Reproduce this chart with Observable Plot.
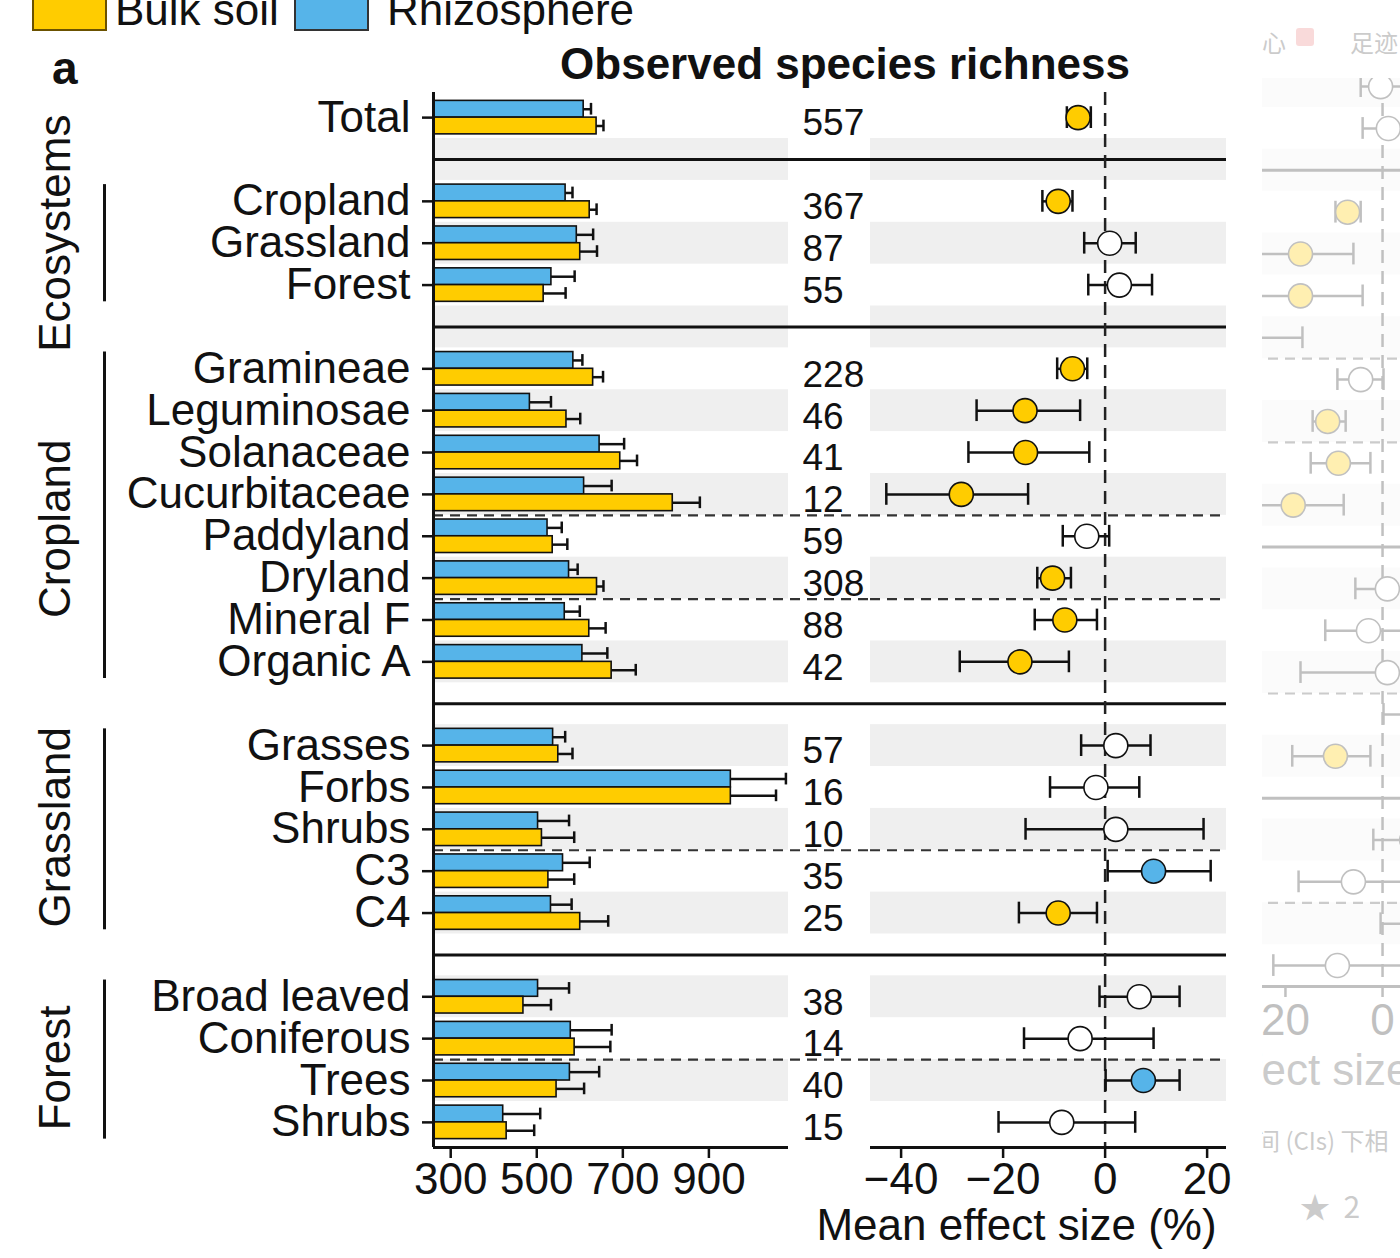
<!DOCTYPE html>
<html>
<head>
<meta charset="utf-8">
<script src="https://cdn.jsdelivr.net/npm/d3@7"></script>
<script src="https://cdn.jsdelivr.net/npm/@observablehq/plot@0.6"></script>
<style>
  html, body { margin: 0; padding: 0; background: #fff; overflow: hidden; }
  #wrap { position: relative; width: 1400px; height: 1258px; font-family: "Liberation Sans", Arial, sans-serif; overflow: hidden; }
  #wrap > svg { position: absolute; left: 0; top: 0; }
  .lbl { position: absolute; white-space: nowrap; line-height: 44px; font-size: 44px; color: #111; }
  .box { position: absolute; border: 2px solid #333; box-sizing: border-box; }
  #ghost { position: absolute; left: 1262px; top: 0; width: 138px; height: 1258px; overflow: hidden; opacity: 0.3; }
  #ghostPlot { position: absolute; left: 0; top: 78px; width: 138px; height: 1180px; overflow: hidden; }
  #ghostPlot svg { position: absolute; left: -1262px; top: -78px; max-width: none !important; width: 1400px; height: 1258px; }
  .gt { position: absolute; white-space: nowrap; color: #555; font-family: "Noto Sans CJK SC", "Liberation Sans", sans-serif; }
</style>
</head>
<body>
<div id="wrap">
  <div class="box" style="left:32px;top:-12px;width:75px;height:43px;background:#FFCC00;border-color:#6b5200"></div>
  <div class="lbl" style="left:115px;top:-12px;">Bulk soil</div>
  <div class="box" style="left:294px;top:-12px;width:75px;height:43px;background:#56B4E9;"></div>
  <div class="lbl" style="left:387px;top:-12px;">Rhizosphere</div>
  <div class="lbl" style="left:52px;top:46px;font-weight:bold;font-size:46px;">a</div>
  <div class="lbl" style="left:545px;top:42px;width:600px;text-align:center;font-weight:bold;">Observed species richness</div>
  <div id="ghost">
    <div class="gt" style="left:0px;top:24px;font-size:24px;">心</div>
    <div class="gt" style="left:34px;top:28px;width:18px;height:18px;background:#e88;border-radius:3px;"></div>
    <div class="gt" style="left:88px;top:24px;font-size:24px;">足迹</div>
    <div id="ghostPlot"></div>
    <div class="gt" style="left:-171px;top:1048px;font-size:44px;line-height:44px;font-family:'Liberation Sans',sans-serif;">Mean effect size (%)</div>
    <div class="gt" style="left:-30px;top:1122px;font-size:24px;">区间 (CIs) 下相</div>
    <div class="gt" style="left:38px;top:1183px;font-size:30px;">★ &nbsp;2</div>
  </div>
</div>
<script>
// ---------- data ----------
const categories = ["Total","Cropland","Grassland","Forest","Gramineae","Leguminosae","Solanaceae","Cucurbitaceae","Paddyland","Dryland","Mineral F","Organic A","Grasses","Forbs","Shrubs","C3","C4","Broad leaved","Coniferous","Trees","Shrubs"];
const groupOf = ["Total","Ecosystems","Ecosystems","Ecosystems","Cropland","Cropland","Cropland","Cropland","Cropland","Cropland","Cropland","Cropland","Grassland","Grassland","Grassland","Grassland","Grassland","Forest","Forest","Forest","Forest"];
const subgroupOf = ["all","eco","eco","eco","family","family","family","family","water","water","fert","fert","func","func","func","path","path","leaf","leaf","form","form"];
const sampleN = [557,367,87,55,228,46,41,12,59,308,88,42,57,16,10,35,25,38,14,40,15];
const rhizosphere = [609,567,593,534,585,484,646,610,525,575,565,606,538,951,503,561,533,503,579,577,422];
const rhizosphereHi = [626,583,631,588,606,533,703,674,558,595,600,664,566,1079,575,623,581,575,674,645,508];
const bulkSoil = [639,623,601,516,631,569,694,816,537,640,622,674,550,951,512,527,601,469,588,546,430];
const bulkSoilHi = [655,639,640,567,654,601,733,879,571,655,660,730,583,1056,587,587,666,533,671,610,494];
const effect = [-5.3,-9.2,0.9,2.8,-6.4,-15.7,-15.6,-28.2,-3.6,-10.3,-7.9,-16.7,2.1,-1.8,2.1,9.5,-9.2,6.7,-4.9,7.5,-8.5];
const effectLo = [-7.5,-12.3,-4.1,-3.3,-9.4,-25.2,-26.8,-42.9,-8.3,-13.3,-13.8,-28.5,-4.7,-10.8,-15.6,0.5,-16.9,-1.1,-15.9,0.1,-20.9];
const effectHi = [-2.8,-6.4,6.0,9.2,-3.5,-4.9,-3.1,-15.1,0.8,-6.7,-1.6,-7.1,8.9,6.7,19.3,20.7,-1.6,14.6,9.5,14.6,5.9];
const barTicks = [300,500,700,900];
const effectTicks = [-40,-20,0,20];
const groupLabelShift = [-0.24, 0.32, -0.05, 0.2];
const colBulk = "#FFCC00", colRhizo = "#56B4E9";

// faded neighbouring panel visible at the right edge of the screenshot
const ghostRow = [0,1,3,4,5,6,7,8,9,10,12,13,14,15,16,18,19,20,21];
const ghostEffect = [-0.4,1.2,-7.2,-16.9,-16.9,-30,-4.5,-11.3,-9.1,-18.4,1.0,-2.9,1.0,10,-9.7,6,-6.0,8,-9.3];
const ghostLo = [-4.5,-4.1,-9.7,-27,-28,-40,-9.3,-14.4,-14.8,-27,-5.6,-11.8,-16.9,0.2,-18.6,-1.9,-17.3,-0.4,-22.5];
const ghostHi = [4.5,6,-4.5,-6.0,-4.1,-16.5,0.2,-7.6,-2.5,-8.0,8,6,12,20,-2.5,14,8,16,5];
const ghostSolid = [2, 11, 17];
const ghostDashed = [6.5, 8.5, 14.5, 19.5];
const ghostTicks = [-20, 0];

// ---------- layout from structure ----------
let r = 0; const rows = [], blanks = [], dashes = [];
categories.forEach((c, i) => {
  if (i > 0 && groupOf[i] !== groupOf[i-1]) { blanks.push(r); r++; }
  else if (i > 0 && subgroupOf[i] !== subgroupOf[i-1]) dashes.push(r - 0.5);
  rows.push(r); r++;
});
const lastRow = r - 1;
const yDomain = [lastRow + 0.6, -0.6];
const stripes = d3.range(0, lastRow + 1).filter(k => k % 2 === 1);
const sigOf = (lo, hi) => lo > 0 ? "pos" : hi < 0 ? "neg" : "ns";
const table = categories.map((c, i) => ({
  c, row: rows[i], n: sampleN[i],
  rz: rhizosphere[i], rzHi: rhizosphereHi[i], bs: bulkSoil[i], bsHi: bulkSoilHi[i],
  e: effect[i], lo: effectLo[i], hi: effectHi[i], sig: sigOf(effectLo[i], effectHi[i])
}));
const groups = Array.from(d3.group(table.map((d, i) => ({...d, g: groupOf[i]})), d => d.g))
  .filter(([g]) => g !== "Total")
  .map(([g, v], i) => ({g, first: d3.min(v, d => d.row), last: d3.max(v, d => d.row), shift: groupLabelShift[i]}));
const labelByRow = new Map(table.map(d => [d.row, d.c]));
const ghost = ghostRow.map((k, i) => ({row: k, e: ghostEffect[i], lo: ghostLo[i], hi: ghostHi[i], sig: sigOf(ghostLo[i], ghostHi[i])}));

const W = 1400, H = 1258, MT = 92, MB = 111;
const font = "'Liberation Sans', Arial, sans-serif";
const barDomain = [260, 1085];
const effDomain = [-46, 23.8];
const bh = 0.4, cap = 0.14, ecap = 0.26;
const minus = v => v < 0 ? "\u2212" + Math.abs(v) : String(v);
const baseStyle = {fontFamily: font, fontSize: "44px", background: "transparent", color: "#111", overflow: "visible"};
const colorScale = {domain: ["neg", "ns", "pos"], range: [colBulk, "#ffffff", colRhizo]};

const plotA = Plot.plot({
  width: W, height: H, marginLeft: 433, marginRight: W - 788, marginTop: MT, marginBottom: MB,
  x: {domain: barDomain}, y: {domain: yDomain},
  style: baseStyle,
  marks: [
    Plot.rect(stripes, {y1: d => d - 0.5, y2: d => d + 0.5, fill: "#efefef"}),
    Plot.ruleY(blanks, {stroke: "#111", strokeWidth: 3, insetRight: -82}),
    Plot.ruleY(dashes, {stroke: "#333", strokeWidth: 2.2, strokeDasharray: "10,7", insetRight: -82}),
    Plot.ruleY(table, {y: d => d.row - bh/2, x1: "rz", x2: "rzHi", stroke: "#111", strokeWidth: 2.5}),
    Plot.ruleX(table, {x: "rzHi", y1: d => d.row - bh/2 - cap, y2: d => d.row - bh/2 + cap, stroke: "#111", strokeWidth: 2.5}),
    Plot.ruleY(table, {y: d => d.row + bh/2, x1: "bs", x2: "bsHi", stroke: "#111", strokeWidth: 2.5}),
    Plot.ruleX(table, {x: "bsHi", y1: d => d.row + bh/2 - cap, y2: d => d.row + bh/2 + cap, stroke: "#111", strokeWidth: 2.5}),
    Plot.rect(table, {x1: barDomain[0], x2: "rz", y1: d => d.row - bh, y2: d => d.row, fill: colRhizo, stroke: "#111", strokeWidth: 1.6}),
    Plot.rect(table, {x1: barDomain[0], x2: "bs", y1: d => d.row, y2: d => d.row + bh, fill: colBulk, stroke: "#111", strokeWidth: 1.6}),
    Plot.ruleX([barDomain[0]], {stroke: "#111", strokeWidth: 3}),
    Plot.ruleY([yDomain[0]], {stroke: "#111", strokeWidth: 3}),
    Plot.axisY({ticks: rows, tickFormat: v => labelByRow.get(v), tickSize: 11, tickPadding: 12, fontSize: 44, strokeWidth: 2.5, label: null}),
    Plot.axisX({ticks: barTicks, tickSize: 11, tickPadding: 4, fontSize: 44, strokeWidth: 2.5, label: null}),
    Plot.text(table, {y: "row", text: "n", frameAnchor: "right", textAnchor: "start", dx: 14, dy: 6, fontSize: 37}),
    Plot.ruleX(groups, {x: () => barDomain[0], y1: d => d.first - 0.4, y2: d => d.last + 0.4, dx: -329, stroke: "#111", strokeWidth: 3}),
    Plot.text(groups, {x: () => barDomain[0], y: d => (d.first + d.last) / 2 + d.shift, text: "g", rotate: -90, dx: -378, fontSize: 44})
  ]
});

const plotB = Plot.plot({
  width: W, height: H, marginLeft: 870, marginRight: W - 1226, marginTop: MT, marginBottom: MB,
  x: {domain: effDomain}, y: {domain: yDomain, axis: null},
  color: colorScale,
  style: baseStyle,
  marks: [
    Plot.rect(stripes, {y1: d => d - 0.5, y2: d => d + 0.5, fill: "#efefef"}),
    Plot.ruleY(blanks, {stroke: "#111", strokeWidth: 3}),
    Plot.ruleY(dashes, {stroke: "#333", strokeWidth: 2.2, strokeDasharray: "10,7"}),
    Plot.ruleX([0], {stroke: "#222", strokeWidth: 2.5, strokeDasharray: "13,8"}),
    Plot.ruleY(table, {y: "row", x1: "lo", x2: "hi", stroke: "#111", strokeWidth: 2.5}),
    Plot.ruleX(table, {x: "lo", y1: d => d.row - ecap, y2: d => d.row + ecap, stroke: "#111", strokeWidth: 2.5}),
    Plot.ruleX(table, {x: "hi", y1: d => d.row - ecap, y2: d => d.row + ecap, stroke: "#111", strokeWidth: 2.5}),
    Plot.dot(table, {x: "e", y: "row", r: 12, fill: "sig", stroke: "#111", strokeWidth: 1.6}),
    Plot.ruleY([yDomain[0]], {stroke: "#111", strokeWidth: 3}),
    Plot.axisX({ticks: effectTicks, tickFormat: minus, tickSize: 11, tickPadding: 4, fontSize: 44, strokeWidth: 2.5, label: null}),
    Plot.text(["Mean effect size (%)"], {frameAnchor: "bottom", dx: -32, dy: 92, fontSize: 44})
  ]
});

const gDomainY = [21.5, -0.6];
const plotG = Plot.plot({
  width: W, height: H, marginLeft: 1200, marginRight: 0, marginTop: 61, marginBottom: 272,
  x: {domain: [-37.5, 3.7]}, y: {domain: gDomainY, axis: null},
  color: colorScale,
  style: baseStyle,
  marks: [
    Plot.rect(d3.range(0, 22).filter(k => k % 2 === 0), {y1: d => d - 0.5, y2: d => d + 0.5, fill: "#f4f4f4"}),
    Plot.ruleY(ghostSolid, {stroke: "#333", strokeWidth: 3}),
    Plot.ruleY(ghostDashed, {stroke: "#555", strokeWidth: 2.2, strokeDasharray: "10,7"}),
    Plot.ruleX([0], {stroke: "#333", strokeWidth: 2.5, strokeDasharray: "13,8"}),
    Plot.ruleY(ghost, {y: "row", x1: "lo", x2: "hi", stroke: "#333", strokeWidth: 2.5}),
    Plot.ruleX(ghost, {x: "lo", y1: d => d.row - ecap, y2: d => d.row + ecap, stroke: "#333", strokeWidth: 2.5}),
    Plot.ruleX(ghost, {x: "hi", y1: d => d.row - ecap, y2: d => d.row + ecap, stroke: "#333", strokeWidth: 2.5}),
    Plot.dot(ghost, {x: "e", y: "row", r: 12, fill: "sig", stroke: "#333", strokeWidth: 1.6}),
    Plot.ruleY([gDomainY[0]], {stroke: "#333", strokeWidth: 3}),
    Plot.axisX({ticks: ghostTicks, tickFormat: v => String(Math.abs(v)), tickSize: 11, tickPadding: 6, fontSize: 44, strokeWidth: 2.5, label: null, color: "#333"})
  ]
});

const wrap = document.getElementById("wrap");
wrap.insertBefore(plotA, wrap.firstChild);
wrap.insertBefore(plotB, plotA.nextSibling);
document.getElementById("ghostPlot").appendChild(plotG);
</script>
</body>
</html>
